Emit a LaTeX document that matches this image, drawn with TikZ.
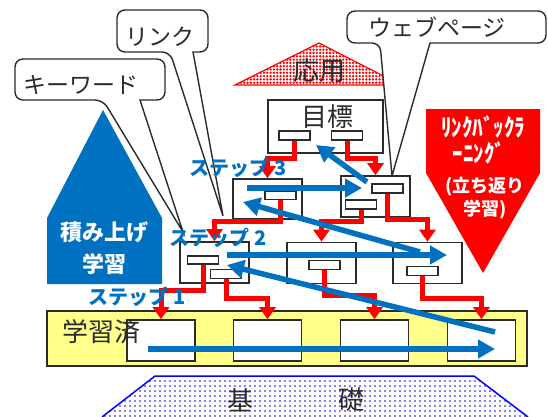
\documentclass[tikz,border=0pt]{standalone}
\usepackage{fontspec}
\newfontfamily\jp{Noto Sans CJK JP}
\usetikzlibrary{arrows.meta,patterns.meta}
\definecolor{pblue}{HTML}{0070C0}
\definecolor{pred}{HTML}{FF0000}
\definecolor{pyel}{HTML}{FFFF8A}
\definecolor{pdark}{HTML}{2B2B2B}
\begin{document}
\begin{tikzpicture}[x=1pt,y=-1pt,
  box/.style={draw=pdark,line width=1.6pt,fill=white,inner sep=0pt},
  lbox/.style={box,minimum width=69pt,minimum height=41pt},
  sub/.style={draw=pdark,line width=1.4pt,fill=white,inner sep=0pt,minimum width=31pt,minimum height=9pt},
  redln/.style={draw=pred,line width=5pt,-{Triangle[length=12pt,width=16pt]}},
  blueln/.style={draw=pblue,line width=5.5pt,-{Triangle[length=17pt,width=18pt]}},
  callout/.style={draw=pdark,line width=1.4pt,fill=white},
  ctext/.style={font=\jp\fontsize{23}{25}\selectfont,text=pdark,inner sep=0pt},
  btext/.style={font=\jp\fontsize{26}{28}\selectfont,text=pdark,inner sep=0pt},
  steplbl/.style={font=\jp\bfseries\fontsize{20}{22}\selectfont,text=pblue,inner sep=0pt},
  wtext/.style={font=\jp\bfseries\fontsize{21}{23}\selectfont,text=white,inner sep=0pt}
]
\useasboundingbox (0,0) rectangle (548,416);

% foundation trapezoid
\path[pattern={Dots[distance=5pt,radius=0.9pt]},pattern color=blue]
  (102,417) -- (155,376) -- (474,376) -- (528,417) -- cycle;
\draw[blue,line width=1.5pt] (102,417) -- (155,376) -- (474,376) -- (528,417);
\node[btext] (ki) at (240,400) {基};
\node[btext] (so) at (351,400) {礎};

% application triangle
\path[pattern={Dots[distance=3.3pt,radius=1.3pt]},pattern color=pred]
  (235,85) -- (319,43) -- (401,85) -- cycle;
\draw[pred,line width=1.2pt] (235,85) -- (319,43) -- (401,85) -- cycle;
\node[btext] (oyo) at (319,71) {応用};

% blue pentagon
\fill[pblue] (103,110) -- (162,218) -- (162,284) -- (47,284) -- (47,218) -- cycle;
\node[wtext,font=\jp\bfseries\fontsize{22}{24}\selectfont] (tsumi) at (104,232) {積み上げ};
\node[wtext,font=\jp\bfseries\fontsize{22}{24}\selectfont] (gaku) at (104,264) {学習};

% red pentagon
\fill[pred] (426,109) -- (540,109) -- (540,173) -- (483,273) -- (426,173) -- cycle;
\node[wtext,yscale=1.15] (rb1) at (483,127) {ﾘﾝｸﾊﾞｯｸﾗ};
\node[wtext,yscale=1.15] (rb2) at (479,153) {ｰﾆﾝｸﾞ};
\node[wtext,font=\jp\bfseries\fontsize{18}{20}\selectfont] (rb3) at (485,187) {(立ち返り};
\node[wtext,font=\jp\bfseries\fontsize{18}{20}\selectfont] (rb4) at (485,210) {学習)};

% callouts
\draw[callout] (103,100) -- (183,232) -- (140,100) [rounded corners=8pt] -- (165,100) -- (165,59) -- (15,59) -- (15,100) -- cycle;
\node[ctext] (kw) at (81,85) {キーワード};
\draw[callout] (170,52) -- (223,216) -- (193,52) [rounded corners=8pt] -- (208,52) -- (208,10) -- (117,10) -- (117,52) -- cycle;
\node[ctext] (lk) at (160,37) {リンク};
\draw[callout] (380,43) -- (392,176) -- (430,43) [rounded corners=8pt] -- (546,43) -- (546,11) -- (347,11) -- (347,43) -- cycle;
\node[ctext] (wp) at (437,27) {ウェブページ};

% learned band
\node[box,fill=pyel,minimum width=480pt,minimum height=55pt] (band) at (287,338.5) {};
\node[lbox,minimum width=68pt] (p1) at (161,340.5) {};
\node[lbox,minimum width=68pt] (p2) at (267.5,340.5) {};
\node[lbox,minimum width=68pt] (p3) at (374.5,340.5) {};
\node[lbox,minimum width=68pt] (p4) at (481.5,340.5) {};
\node[btext] (gs) at (101,332) {学習済};

% goal box
\node[box,minimum width=115pt,minimum height=53pt] (goal) at (325.5,126.5) {};
\node[btext] (mk) at (327,117) {目標};
\node[sub] (g1) at (294.5,135.5) {};
\node[sub] (g2) at (347,135.5) {};

% level 3
\node[lbox,minimum height=40pt] (L3a) at (267.5,199) {};
\node[lbox] (L3b) at (375.5,196.5) {};
\node[sub,minimum height=8pt] (a1) at (280.5,195.5) {};
\node[sub] (b1) at (387.5,188.5) {};
\node[sub] (b2) at (361,204.5) {};

% level 2
\node[lbox] (L2a) at (214.5,262.5) {};
\node[lbox] (L2b) at (321.5,263) {};
\node[lbox] (L2c) at (427.5,263) {};
\node[sub,minimum height=8pt] (c1) at (203,260) {};
\node[sub] (c2) at (226,274) {};
\node[sub] (d1) at (324.5,265) {};
\node[sub] (e1) at (422.5,271) {};

% red connectors
\draw[redln] (g1.south) -- ++(0,18) -| (L3a.north);
\draw[redln] (g2.south) -- ++(0,18) -| (L3b.north);
\draw[redln] (a1.south) -- ++(0,21) -| (L2a.north);
\draw[redln] (b2.south) -- ++(0,12) -| (L2b.north);
\draw[redln] (b1.south) -- ++(0,26) -| (L2c.north);
\draw[redln] (c1.south) -- ++(0,26) -| (p1.north);
\draw[redln] (c2.south) -- ++(0,19) -| (p2.north);
\draw[redln] (d1.south) -- ++(0,25) -| (p3.north);
\draw[redln] (e1.south) -- ++(0,22) -| (p4.north);

% blue arrows
\coordinate (u1) at (148,349);  \coordinate (v1) at (495,349);
\coordinate (u2) at (227,255);  \coordinate (v2) at (447,255);
\coordinate (u3) at (495,332);  \coordinate (v3) at (227,265);
\coordinate (u4) at (420,252);  \coordinate (v4) at (243,202);
\coordinate (u5) at (247,188);  \coordinate (v5) at (362,188);
\coordinate (u6) at (367,182);  \coordinate (v6) at (316,145);
\draw[blueln] (u1) -- (v1);
\draw[blueln] (u3) -- (v3);
\draw[blueln] (u4) -- (v4);
\draw[blueln] (u2) -- (v2);
\draw[blueln] (u5) -- (v5);
\draw[blueln] (u6) -- (v6);

% step labels
\node[steplbl] (s3) at (238,168) {ステップ 3};
\node[steplbl] (s2) at (218,238) {ステップ 2};
\node[steplbl] (s1) at (137,297) {ステップ 1};
\end{tikzpicture}
\end{document}
